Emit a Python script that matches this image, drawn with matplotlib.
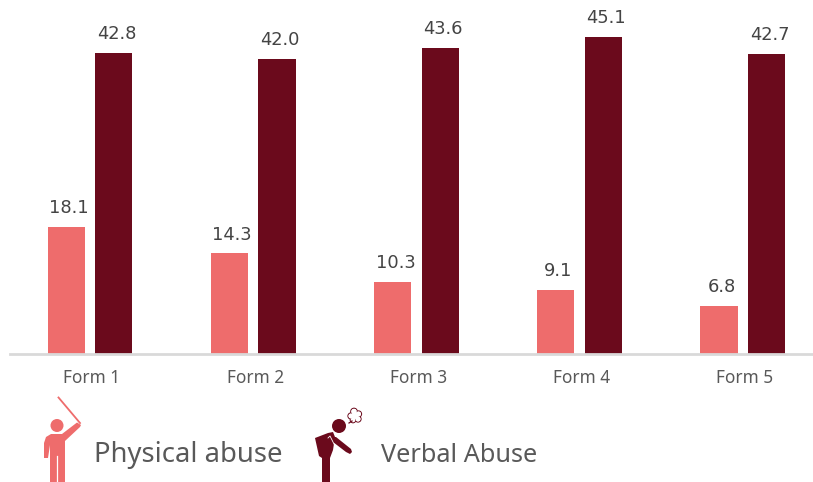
import matplotlib
matplotlib.use("Agg")
import matplotlib.pyplot as plt
from matplotlib.patches import Circle, Polygon
from matplotlib.lines import Line2D

categories = ["Form 1", "Form 2", "Form 3", "Form 4", "Form 5"]
physical = [18.1, 14.3, 10.3, 9.1, 6.8]
verbal = [42.8, 42.0, 43.6, 45.1, 42.7]
series_names = ["Physical abuse", "Verbal Abuse"]

LIGHT = "#EE6C6C"
DARK = "#6B0A1C"
TEXT = "#595959"
W, H = 813, 482
plt.rcParams["font.family"] = ["Noto Sans", "DejaVu Sans"]

fig = plt.figure(figsize=(W / 100, H / 100), dpi=100, facecolor="white")
ax = fig.add_axes([10 / W, (H - 354) / H, (W - 10) / W, 354 / H])
ax.set_xlim(-0.49, 4.43)
ax.set_ylim(0, 50.36)
positions = list(range(len(categories)))
bw = 0.228
off = 0.146
bars1 = ax.bar([p - off for p in positions], physical, bw, color=LIGHT)
bars2 = ax.bar([p + off for p in positions], verbal, bw, color=DARK)
for bars in (bars1, bars2):
    for b in bars:
        ax.annotate(f"{b.get_height():.1f}",
                    (b.get_x() + b.get_width() / 2, b.get_height()),
                    xytext=(2.0, 7), textcoords="offset points",
                    ha="center", va="bottom", fontsize=12.9,
                    color="#444444", family="DejaVu Sans")
ax.set_xticks([p + 0.012 for p in positions], categories, fontsize=12.4, color=TEXT)
ax.tick_params(axis="x", length=0, pad=10.5)
ax.set_yticks([])
for s in ("top", "left", "right"):
    ax.spines[s].set_visible(False)
ax.spines["bottom"].set_color("#D9D9D9")
ax.spines["bottom"].set_linewidth(2)

# Overlay in pixel space for the legend pictograms and labels
ov = fig.add_axes([0, 0, 1, 1], facecolor="none")
ov.set_xlim(0, W)
ov.set_ylim(H, 0)
ov.axis("off")

# Physical abuse figure
ov.add_line(Line2D([58.5, 80], [397.5, 423], color=LIGHT, lw=1.3))
ov.add_patch(Circle((57, 425.5), 6.5, color=LIGHT, lw=0))
ov.add_patch(Polygon([(51, 434), (62, 434), (77, 422.5), (81, 425), (80, 427),
                      (65, 441), (65, 482), (50, 482), (50, 445), (48, 458),
                      (44, 458), (44, 443), (46, 437)],
                     closed=True, color=LIGHT, lw=0))
ov.add_line(Line2D([57.3, 57.3], [456, 482], color="white", lw=0.9))

# Verbal abuse figure
ov.add_patch(Circle((339, 426), 7, color=DARK, lw=0))
ov.add_patch(Polygon([(315, 438), (328, 433), (333, 432), (335, 437), (333, 450),
                      (330, 458), (330, 482), (322, 482), (322, 458), (319, 456),
                      (317, 447)],
                     closed=True, color=DARK, lw=0))
ov.add_patch(Polygon([(333, 437), (336, 437), (351, 449), (352, 452), (350, 454),
                      (346, 452), (333, 442)],
                     closed=True, color=DARK, lw=0))
ov.add_line(Line2D([328, 330, 334], [438, 436, 444], color="white", lw=0.6))
# thought puff
puffs = [(351, 416, 3), (354, 411.5, 3.2), (358.5, 414, 3), (358, 419, 3), (353, 420, 2.7)]
for cx, cy, r in puffs:
    ov.add_patch(Circle((cx, cy), r, fc="white", ec=DARK, lw=0.9))
for cx, cy, r in puffs:
    ov.add_patch(Circle((cx, cy), r - 0.4, fc="white", ec="none"))
ov.add_patch(Circle((355, 415.5), 3.5, fc="white", ec="none"))
ov.add_line(Line2D([349, 352], [423, 421], color=DARK, lw=0.9))

ov.text(94, 455, series_names[0], fontsize=19.8, color=TEXT, va="center", ha="left")
ov.text(381, 455, series_names[1], fontsize=18.2, color=TEXT, va="center", ha="left")

fig.savefig("out.png", dpi=100)
